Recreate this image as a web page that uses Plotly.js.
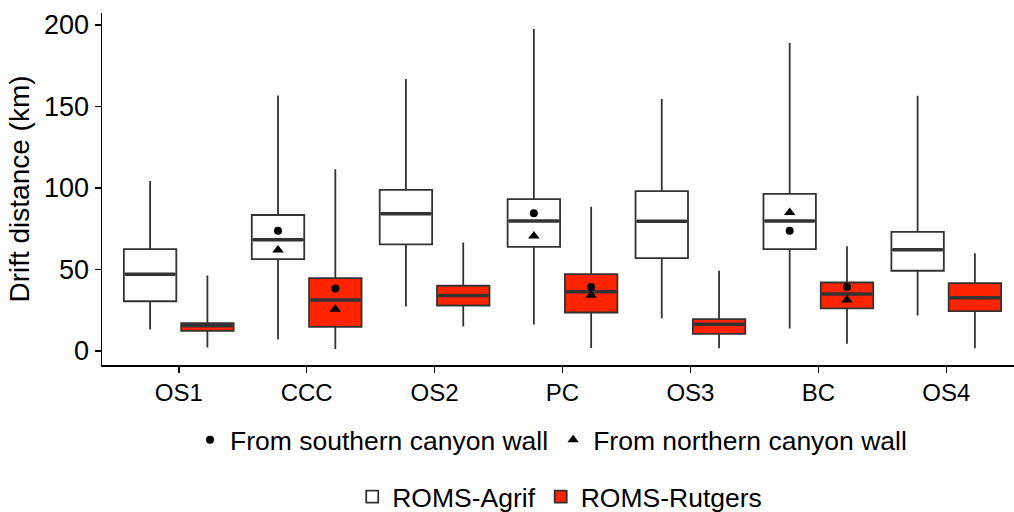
<!DOCTYPE html>
<html>
<head>
<meta charset="utf-8">
<script src="https://cdn.plot.ly/plotly-3.0.1.min.js"></script>
<style>
html,body{margin:0;padding:0;overflow:hidden;background:#fff;}
#chart{width:1024px;height:512px;}
</style>
</head>
<body>
<div id="chart"></div>
<script>
const categories = ['OS1','CCC','OS2','PC','OS3','BC','OS4'];
const models = ['ROMS-Agrif','ROMS-Rutgers'];

const agrifLower  = [13.1, 7.0, 27.3, 16.2, 20.1, 13.8, 21.8];
const agrifQ1     = [30.5, 56.4, 65.4, 63.9, 57.0, 62.5, 49.2];
const agrifMedian = [47.1, 68.2, 84.2, 79.7, 79.5, 79.7, 62.1];
const agrifQ3     = [62.5, 83.4, 98.8, 93.2, 98.0, 96.3, 73.1];
const agrifUpper  = [104.3, 156.7, 166.8, 197.5, 154.5, 188.9, 156.5];

const rutgersLower  = [2.1, 1.2, 15.0, 1.8, 1.7, 4.5, 1.7];
const rutgersQ1     = [12.3, 14.8, 27.9, 23.6, 10.5, 26.1, 24.4];
const rutgersMedian = [15.5, 31.2, 34.0, 36.3, 16.4, 35.0, 32.6];
const rutgersQ3     = [17.0, 44.7, 40.0, 47.1, 19.5, 42.0, 41.6];
const rutgersUpper  = [46.3, 111.5, 66.6, 88.5, 49.2, 64.2, 60.0];

const agrifSouth   = [null, 73.8, null, 84.4, null, 73.8, null];
const agrifNorth   = [null, 61.9, null, 70.5, null, 85.0, null];
const rutgersSouth = [null, 38.3, null, 39.3, null, 39.3, null];
const rutgersNorth = [null, 25.6, null, 34.2, null, 31.3, null];

const FONT = 'Liberation Sans, Arial, sans-serif';
const DODGE = 0.224, BOXW = 0.41;
const idx = categories.map((c, i) => i);
const xA = idx.map(i => i - DODGE);
const xR = idx.map(i => i + DODGE);

function boxTrace(name, x, lo, q1, med, q3, hi, fill) {
  return {
    type: 'box', name: name, x: x, q1: q1, median: med, q3: q3,
    lowerfence: lo, upperfence: hi, width: BOXW, whiskerwidth: 0,
    fillcolor: fill, line: {color: '#333333', width: 1.8},
    boxpoints: false, legend: 'legend2', hoverinfo: 'skip'
  };
}
function medianTrace(x, med) {
  const xs = [], ys = [];
  x.forEach((v, i) => { xs.push(v - BOXW/2 + 0.01, v + BOXW/2 - 0.01, null); ys.push(med[i], med[i], null); });
  return {type: 'scatter', mode: 'lines', x: xs, y: ys, line: {color: '#333333', width: 3.5},
          showlegend: false, hoverinfo: 'skip'};
}
function pts(name, x1, y1, x2, y2, symbol, show) {
  return {type: 'scatter', mode: 'markers', name: name,
          x: x1.concat(x2), y: y1.concat(y2),
          marker: {symbol: symbol, color: '#000000', size: symbol === 'circle' ? 8 : 10},
          showlegend: show, legend: 'legend', hoverinfo: 'skip'};
}

const data = [
  boxTrace(models[0], xA, agrifLower, agrifQ1, agrifMedian, agrifQ3, agrifUpper, '#FFFFFF'),
  boxTrace(models[1], xR, rutgersLower, rutgersQ1, rutgersMedian, rutgersQ3, rutgersUpper, '#FF2400'),
  medianTrace(xA, agrifMedian),
  medianTrace(xR, rutgersMedian),
  pts('From southern canyon wall', xA, agrifSouth, xR, rutgersSouth, 'circle', true),
  pts('From northern canyon wall', xA, agrifNorth, xR, rutgersNorth, 'triangle-up', true)
];

const layout = {
  width: 1024, height: 512,
  margin: {l: 102, r: 1, t: 13, b: 147, autoexpand: false},
  paper_bgcolor: '#fff', plot_bgcolor: '#fff',
  font: {family: FONT, color: '#000', size: 24},
  boxmode: 'overlay', hovermode: false,
  xaxis: {
    range: [-0.6, 6.6], tickmode: 'array', tickvals: idx, ticktext: categories,
    showline: true, linecolor: '#000', linewidth: 1.5, showgrid: false, zeroline: false,
    ticks: 'outside', ticklen: 6, tickwidth: 1.5, tickcolor: '#000',
    tickfont: {family: FONT, size: 24, color: '#000'}
  },
  yaxis: {
    range: [-8.6, 207.3], tickmode: 'array', tickvals: [0,50,100,150,200],
    showline: true, linecolor: '#000', linewidth: 1.5, showgrid: false, zeroline: false,
    ticks: 'outside', ticklen: 6, tickwidth: 1.5, tickcolor: '#000',
    tickfont: {family: FONT, size: 27, color: '#000'},
    title: {text: 'Drift distance (km)', font: {family: FONT, size: 28, color: '#000'}, standoff: 6}
  },
  legend: {
    orientation: 'h', x: 0.4875, xanchor: 'center', yref: 'container', y: 0.1406, yanchor: 'middle',
    font: {family: FONT, size: 26.5, color: '#000'}, bgcolor: 'rgba(0,0,0,0)', itemsizing: 'trace'
  },
  legend2: {
    orientation: 'h', x: 0.497, xanchor: 'center', yref: 'container', y: 0.0293, yanchor: 'middle',
    font: {family: FONT, size: 26.5, color: '#000'}, bgcolor: 'rgba(0,0,0,0)'
  },
  showlegend: true
};

Plotly.newPlot('chart', data, layout, {displayModeBar: false, staticPlot: true});
</script>
</body>
</html>
